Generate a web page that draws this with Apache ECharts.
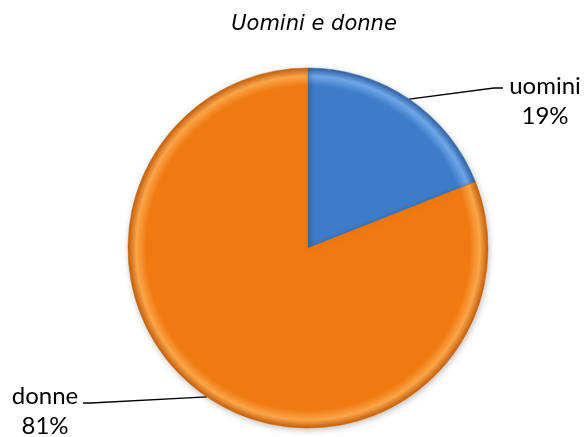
<!DOCTYPE html>
<html>
<head>
<meta charset="utf-8">
<script src="https://cdn.jsdelivr.net/npm/echarts@6/dist/echarts.min.js"></script>
<style>
  html, body { margin: 0; padding: 0; background: #fff; }
  #chart { width: 585px; height: 437px; }
</style>
</head>
<body>
<div id="chart"></div>
<script>
const categories = ["uomini", "donne"];
const values = [19, 81];
const baseColors = ["#3d7cc9", "#f07a10"];
const edgeLight = ["#6fa6e8", "#faa54a"];
const edgeDark = ["#2d64a6", "#c7600a"];

// centre of each label's text block
const labelSpots = [
  { x: 545, y: 101 },
  { x: 45, y: 411 },
];
// bend of each leader line, relative to the label centre
const elbows = [
  [{ dx: -51, dy: -13 }, { dx: -42, dy: -13 }],
  [{ dx: 46, dy: -8 }, { dx: 38, dy: -8 }],
];

const cx = 308, cy = 248, r = 180;

const chart = echarts.init(document.getElementById("chart"), null, { renderer: "canvas" });

function bevel(i) {
  return new echarts.graphic.RadialGradient(cx, cy, r, [
    { offset: 0, color: baseColors[i] },
    { offset: 0.9, color: baseColors[i] },
    { offset: 0.955, color: edgeLight[i] },
    { offset: 1, color: edgeDark[i] },
  ], true);
}

const option = {
  animation: false,
  title: {
    text: "Uomini e donne",
    left: 309,
    top: 9,
    textAlign: "center",
    textStyle: {
      fontFamily: "DejaVu Sans",
      fontStyle: "italic",
      fontWeight: "normal",
      fontSize: 21,
      color: "#000",
    },
  },
  series: [
    {
      type: "pie",
      center: [cx, cy],
      radius: r,
      startAngle: 90,
      clockwise: true,
      data: categories.map((name, i) => ({
        name,
        value: values[i],
        itemStyle: {
          color: bevel(i),
          borderColor: edgeDark[i],
          borderWidth: 0.5,
          shadowColor: "rgba(0,0,0,0.25)",
          shadowBlur: 6,
          shadowOffsetX: 1,
          shadowOffsetY: 2,
        },
      })),
      label: {
        show: true,
        position: "outside",
        formatter: "{b}\n{d}%",
        fontFamily: "Lato, 'Open Sans', sans-serif",
        fontSize: 24,
        lineHeight: 30,
        color: "#000",
        align: "center",
      },
      labelLine: {
        show: true,
        length: 10,
        length2: 10,
        lineStyle: { color: "#000", width: 1.5 },
      },
      labelLayout: (params) => {
        const i = params.dataIndex;
        const spot = labelSpots[i];
        const anchor = params.labelLinePoints ? params.labelLinePoints[0] : [cx, cy];
        return {
          x: spot.x,
          y: spot.y,
          align: "center",
          verticalAlign: "middle",
          labelLinePoints: [
            anchor,
            [spot.x + elbows[i][0].dx, spot.y + elbows[i][0].dy],
            [spot.x + elbows[i][1].dx, spot.y + elbows[i][1].dy],
          ],
        };
      },
    },
  ],
};

chart.setOption(option);
</script>
</body>
</html>
